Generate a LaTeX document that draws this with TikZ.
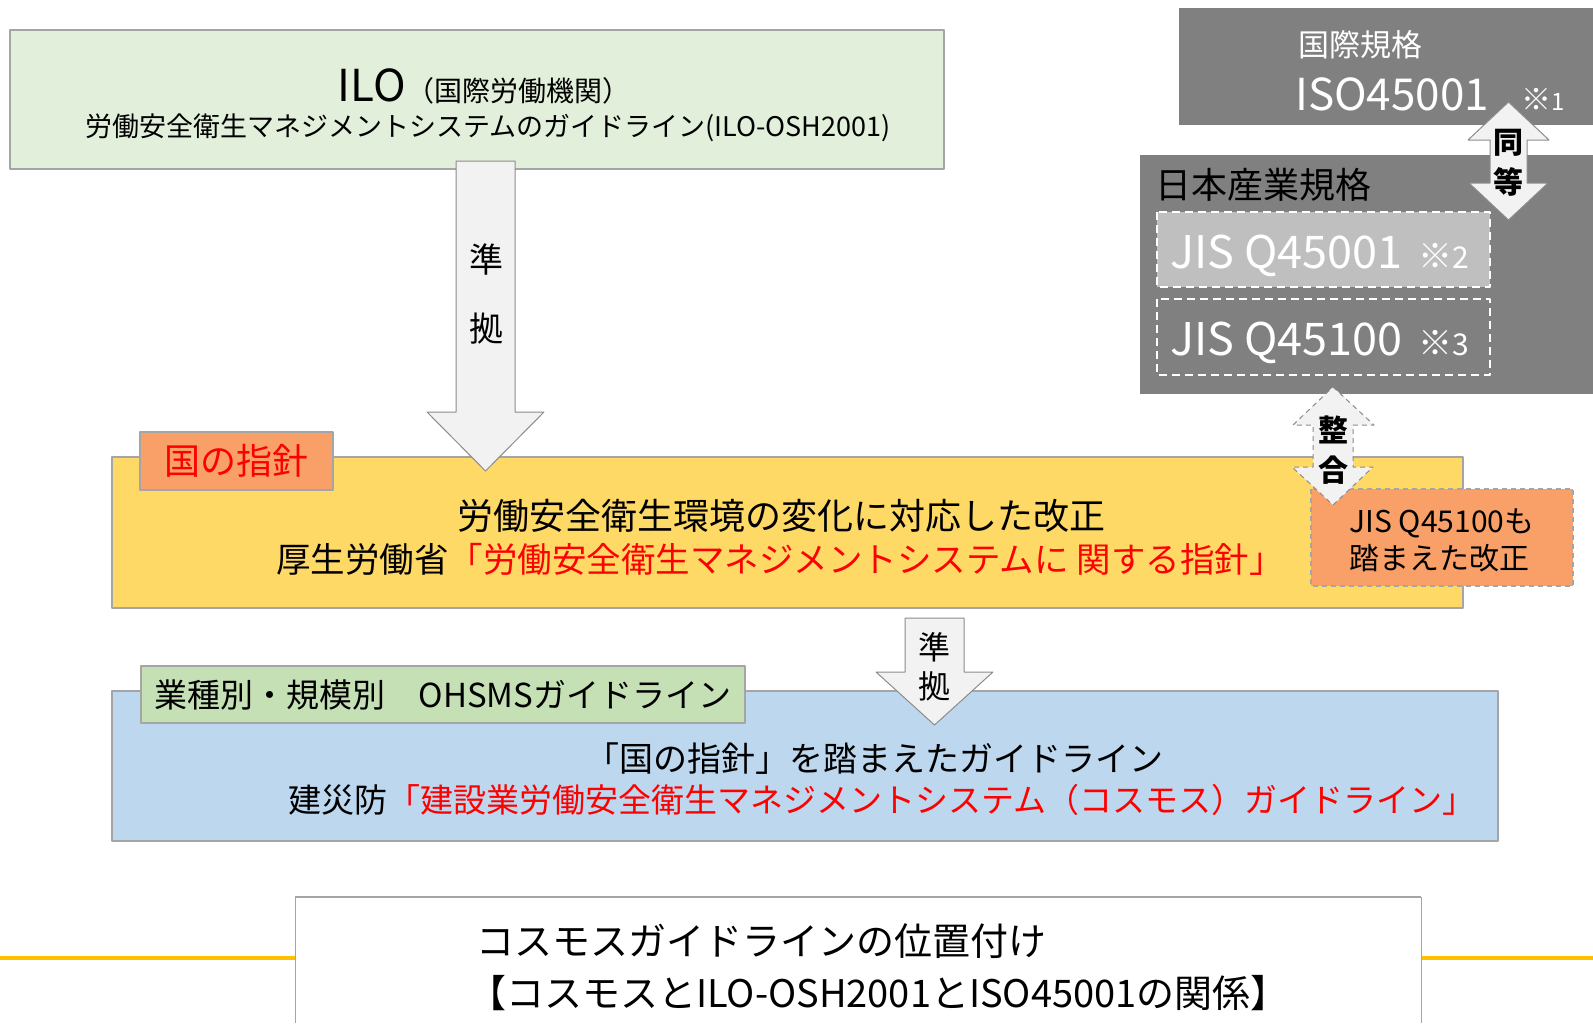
\documentclass[tikz,border=0pt]{standalone}
\usepackage{fontspec}
\setmainfont{Noto Sans CJK JP}
\newcommand\jfs[1]{\fontsize{#1}{#1}\selectfont}
\definecolor{ilogreen}{RGB}{226,239,218}
\definecolor{labgreen}{RGB}{197,224,180}
\definecolor{shiyellow}{RGB}{255,217,102}
\definecolor{shiorange}{RGB}{248,160,104}
\definecolor{guideblue}{RGB}{189,215,238}
\definecolor{stdgray}{RGB}{128,128,128}
\definecolor{jislight}{RGB}{191,191,191}
\definecolor{arrfill}{RGB}{242,242,242}
\definecolor{boxedge}{RGB}{165,165,165}
\definecolor{arredge}{RGB}{140,140,140}
\definecolor{linegold}{RGB}{255,192,0}
\definecolor{txtred}{RGB}{255,0,0}
\begin{document}
\begin{tikzpicture}[x=1pt, y=-1pt, line join=round,
  box/.style={draw=boxedge, line width=1.5pt},
  blk/.style={draw=arredge, fill=arrfill, line width=1pt},
  txt/.style={inner sep=0pt, anchor=center}]
\useasboundingbox (0,0) rectangle (1593,1023);
% ILO
\draw[box, fill=ilogreen] (10,30) rectangle (944,169);
\node[txt] (ilo) at (484,86) {{\jfs{44}ILO}{\jfs{28}（国際労働機関）}};
\node[txt] (ilosh) at (488,128) {\jfs{27}労働安全衛生マネジメントシステムのガイドライン(ILO-OSH2001)};
% national guideline
\draw[box, fill=shiyellow] (112,457) rectangle (1463,608);
\node[box, fill=shiorange, minimum width=193, minimum height=58, inner sep=0pt, text=txtred] (kuni) at (236.5,461) {\jfs{36}国の指針};
\node[txt] (kaisei) at (781,516) {\jfs{36}労働安全衛生環境の変化に対応した改正};
\node[txt] (mhlw) at (780,559) {\jfs{34.5}厚生労働省\textcolor{txtred}{「労働安全衛生マネジメントシステムに 関する指針」}};
% big arrow
\draw[blk] (456,161) -- (515,161) -- (515,412) -- (544,412) -- (485.5,471) -- (427,412) -- (456,412) -- cycle;
\node[txt, align=center, font={\fontsize{34}{69}\selectfont}] (junkyo) at (486,294) {準\\拠};
% industry guideline
\draw[box, fill=guideblue] (112,691) rectangle (1498,841);
\node[box, fill=labgreen, minimum width=604, minimum height=57, inner sep=0pt] (gyoshu) at (443,694.5) {\jfs{33}業種別・規模別　OHSMSガイドライン};
\node[txt] (fumae) at (874,759) {\jfs{34}「国の指針」を踏まえたガイドライン};
\node[txt] (cosmos) at (882,800) {\jfs{33}建災防\textcolor{txtred}{「建設業労働安全衛生マネジメントシステム（コスモス）ガイドライン」}};
% small arrow
\draw[blk] (905,618) -- (964,618) -- (964,672) -- (993,672) -- (934.5,725) -- (876,672) -- (905,672) -- cycle;
\node[txt, align=center, font={\fontsize{32}{39}\selectfont}] (junkyo2) at (934.5,666.5) {準\\拠};
% standards
\fill[stdgray] (1179,8) rectangle (1593,125);
\fill[stdgray] (1140,155) rectangle (1593,394);
\node[txt, text=white] (kokusai) at (1360,44.5) {\jfs{31}国際規格};
\node[inner sep=0pt, anchor=base west, text=white] (iso) at (1295,110) {\jfs{44}ISO45001\hspace{32pt}{\jfs{30}※}{\jfs{24}1}};
\node[txt, anchor=west] (jisname) at (1155,185) {\jfs{36}日本産業規格};
\draw[white, line width=1.5pt, dash pattern=on 8pt off 5pt, fill=jislight] (1157,212) rectangle (1490,287);
\draw[white, line width=1.5pt, dash pattern=on 8pt off 5pt] (1157,299) rectangle (1490,375);
\node[inner sep=0pt, anchor=base west, text=white] (jis1) at (1170,268) {\jfs{45}JIS Q45001\hspace{16pt}{\jfs{34}※}{\jfs{30}2}};
\node[inner sep=0pt, anchor=base west, text=white] (jis2) at (1170,355) {\jfs{45}JIS Q45100\hspace{16pt}{\jfs{34}※}{\jfs{30}3}};
% equivalent
\draw[blk] (1508.5,102) -- (1549,140) -- (1527,140) -- (1527,183) -- (1548,183) -- (1508.5,220)
  -- (1469,183) -- (1490,183) -- (1490,140) -- (1468,140) -- cycle;
\node[txt, align=center, font={\fontsize{30}{40}\selectfont\bfseries}] (doto) at (1508.5,163) {同\\等};
% JIS Q45100 box
\draw[draw=boxedge, line width=1.5pt, dash pattern=on 5pt off 4pt, fill=shiorange] (1311,489) rectangle (1573,586);
\node[txt, align=left, font={\fontsize{30}{37}\selectfont}] (fumaeta) at (1442,540) {JIS Q45100も\\踏まえた改正};
\draw[blk, dash pattern=on 5pt off 4pt] (1333,387) -- (1374,425) -- (1353,425) -- (1353,467) -- (1373,467) -- (1333,505)
  -- (1292,467) -- (1313,467) -- (1313,425) -- (1293,425) -- cycle;
\node[txt, align=center, font={\fontsize{30}{40}\selectfont\bfseries}] (seigo) at (1333,450) {整\\合};
% title
\draw[linegold, line width=3.5pt] (0,958) -- (1593,958);
\fill[white] (295,897) rectangle (1421,1023);
\draw[boxedge, line width=1pt] (295,1023) -- (295,897) -- (1421,897) -- (1421,1023);
\draw[boxedge, line width=2.5pt] (295,897) -- (1421,897);
\node[txt, anchor=west] (ichi) at (476,941) {\jfs{38}コスモスガイドラインの位置付け};
\node[txt, anchor=west] (kankei) at (468,993) {\jfs{38}【コスモスとILO-OSH2001とISO45001の関係】};
\end{tikzpicture}
\end{document}
